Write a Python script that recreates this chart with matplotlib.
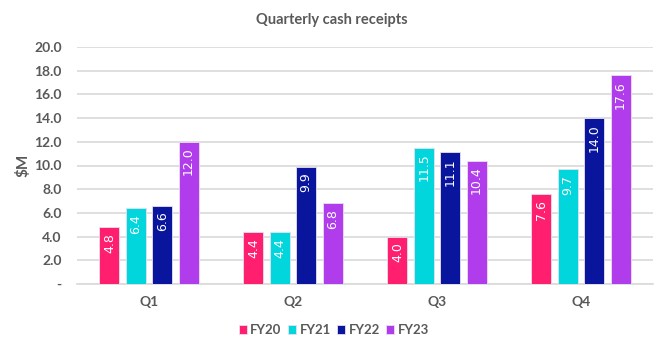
import matplotlib
matplotlib.use("Agg")
import matplotlib.pyplot as plt
import numpy as np

quarters = ["Q1", "Q2", "Q3", "Q4"]
series = ["FY20", "FY21", "FY22", "FY23"]
fy20 = [4.8, 4.4, 4.0, 7.6]
fy21 = [6.4, 4.4, 11.5, 9.7]
fy22 = [6.6, 9.9, 11.1, 14.0]
fy23 = [12.0, 6.8, 10.4, 17.6]
colors = ["#FF1F6E", "#00D6DC", "#0A159E", "#B03CEC"]
yticks = [0, 2, 4, 6, 8, 10, 12, 14, 16, 18, 20]

plt.rcParams['font.family'] = ['Lato', 'DejaVu Sans']
fig = plt.figure(figsize=(6.63, 3.46), dpi=100)
ax = fig.add_axes([77/663, 1-284/346, 576/663, 237/346])

x = np.arange(len(quarters))
step = 0.183
width = 0.139
data = [fy20, fy21, fy22, fy23]
for i, (name, vals, c) in enumerate(zip(series, data, colors)):
    pos = x + (i - 1.5) * step
    bars = ax.bar(pos, vals, width, color=c, label=name, edgecolor="#E8E0F0", linewidth=0.6, zorder=3)
    for b, v in zip(bars, vals):
        ax.text(b.get_x() + b.get_width()/2, v - 0.5, f"{v:.1f}", rotation=90,
                ha="center", va="top", color="white", fontsize=9,
                family="DejaVu Sans", zorder=4)

ax.set_xlim(-0.5, 3.5)
ax.set_ylim(0, 20)
ax.set_yticks(yticks)
ax.set_yticklabels(["-" if t == 0 else f"{t:.1f}" for t in yticks])
ax.set_xticks(x)
ax.set_xticklabels(quarters)
ax.yaxis.grid(True, color="#D9D9D9", linewidth=1.2, zorder=0)
ax.set_axisbelow(True)
for s in ["top", "right", "left"]:
    ax.spines[s].set_visible(False)
ax.spines["bottom"].set_color("#D9D9D9")
ax.spines["bottom"].set_linewidth(1.2)
ax.tick_params(axis="both", length=0, labelsize=10, labelcolor="#595959")
for lab in ax.get_yticklabels() + ax.get_xticklabels():
    lab.set_fontweight("bold")
ax.tick_params(axis="x", pad=9)
ax.tick_params(axis="y", pad=11)

fig.text(23/663, 1-165/346, "$M", rotation=90, ha="center", va="center",
         fontsize=11, fontweight="bold", color="#595959")

fig.text(0.5, 1-20/346, "Quarterly cash receipts", ha="center", va="center",
         fontsize=10.5, fontweight="bold", color="#595959")

leg = fig.legend(loc="center", bbox_to_anchor=(334/663, 1-330/346), ncol=4, frameon=False,
                 handlelength=0.6, handleheight=0.7, handletextpad=0.25, columnspacing=0.5,
                 prop={"size": 9.5, "weight": "bold"})
for t in leg.get_texts():
    t.set_color("#595959")

fig.savefig("out.png", dpi=100)
